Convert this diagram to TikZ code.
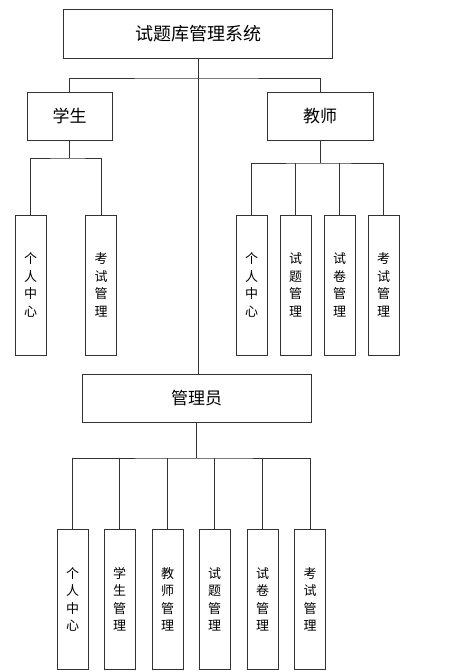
\documentclass[tikz,border=0pt]{standalone}
\usepackage{fontspec}
\setmainfont{Noto Sans CJK SC}
\begin{document}
\begin{tikzpicture}[x=1pt, y=-1pt, line width=0.8pt, draw=black!80,
  box/.style={draw=black!80, fill=white, inner sep=0pt, align=center},
  titlebox/.style={box, minimum width=269pt, minimum height=49pt,
    font=\fontsize{18}{20}\selectfont},
  rolebox/.style={box, minimum height=48pt, font=\fontsize{17}{20}\selectfont},
  leafbox/.style={box, minimum width=31pt, minimum height=140pt,
    font=\fontsize{13}{17.5}\selectfont}]

  \useasboundingbox (0,0) rectangle (449,672);

  % -------------------------------------------------------
  % Top level and the three roles
  % -------------------------------------------------------
  \node[titlebox] (root) at (198, 33.5) {试题库管理系统};
  \node[rolebox, minimum width=85pt]  (student) at (69.5, 116) {学生};
  \node[rolebox, minimum width=106pt] (teacher) at (320, 116) {教师};
  \node[rolebox, minimum width=229pt] (admin)   at (196.5, 398) {管理员};

  \coordinate (jr) at (root.south |- 0,78);
  \draw (root.south) -- (jr);
  \draw (student.north) |- (jr) -| (teacher.north);
  \draw (jr) -- (jr |- admin.north);

  % ---- student ----
  \node[leafbox] (s1) at (30.5, 285) {个\\人\\中\\心};
  \node[leafbox] (s2) at (101, 285)  {考\\试\\管\\理};

  \coordinate (js) at (student.south |- 0,158);
  \draw (student.south) -- (js);
  \draw (s1.north) |- (js) -| (s2.north);

  % ---- teacher ----
  \node[leafbox] (t1) at (251.5, 285) {个\\人\\中\\心};
  \node[leafbox] (t2) at (295.5, 285) {试\\题\\管\\理};
  \node[leafbox] (t3) at (339.5, 285) {试\\卷\\管\\理};
  \node[leafbox] (t4) at (383.5, 285) {考\\试\\管\\理};

  \coordinate (jt) at (teacher.south |- 0,163);
  \draw (teacher.south) -- (jt);
  \draw (t1.north) |- (jt) -| (t4.north);
  \foreach \i in {2,3}
    \draw (t\i.north) -- (t\i.north |- jt);

  % ---- admin ----
  \node[leafbox] (a1) at (72.5, 599.5)  {个\\人\\中\\心};
  \node[leafbox] (a2) at (119.5, 599.5) {学\\生\\管\\理};
  \node[leafbox] (a3) at (167.5, 599.5) {教\\师\\管\\理};
  \node[leafbox] (a4) at (214.5, 599.5) {试\\题\\管\\理};
  \node[leafbox] (a5) at (262.5, 599.5) {试\\卷\\管\\理};
  \node[leafbox] (a6) at (310, 599.5)   {考\\试\\管\\理};

  \coordinate (ja) at (admin.south |- 0,458);
  \draw (admin.south) -- (ja);
  \draw (a1.north) |- (ja) -| (a6.north);
  \foreach \i in {2,...,5}
    \draw (a\i.north) -- (a\i.north |- ja);

\end{tikzpicture}
\end{document}
